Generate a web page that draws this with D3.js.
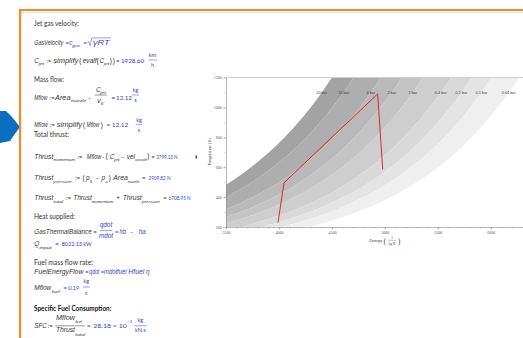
<!DOCTYPE html>
<html>
<head>
<meta charset="utf-8">
<script src="https://cdn.jsdelivr.net/npm/d3@7"></script>
<style>
  html, body { margin: 0; padding: 0; background: #fff; }
  svg { display: block; }
</style>
</head>
<body>
<div id="sheet"></div>
<script>
// isobars of the T-s chart, entropy (J/kg K) read at each temperature (K)
const pressureLabels = ['20 bar', '10 bar', '4 bar', '2 bar', '1 bar', '0.4 bar', '0.2 bar', '0.1 bar', '0.04 bar'];
const isobarTemps = [200, 300, 400, 500, 600, 700, 800, 900, 1000, 1100, 1200];
const isobarEntropy = [
  [2529, 2975, 3291, 3537, 3737, 3907, 4054, 4183, 4299, 4404, 4500],
  [2735, 3181, 3497, 3743, 3943, 4113, 4260, 4389, 4505, 4610, 4706],
  [2993, 3439, 3755, 4001, 4201, 4371, 4518, 4647, 4763, 4868, 4964],
  [3190, 3636, 3952, 4198, 4398, 4568, 4715, 4844, 4960, 5065, 5161],
  [3389, 3835, 4151, 4397, 4597, 4767, 4914, 5043, 5159, 5264, 5360],
  [3653, 4099, 4415, 4661, 4861, 5031, 5178, 5307, 5423, 5528, 5624],
  [3847, 4293, 4609, 4855, 5055, 5225, 5372, 5501, 5617, 5722, 5818],
  [4037, 4483, 4799, 5045, 5245, 5415, 5562, 5691, 5807, 5912, 6008],
  [4295, 4741, 5057, 5303, 5503, 5673, 5820, 5949, 6065, 6170, 6266]
];
const labelTemp = 1100;

// engine cycle (red line)
const cycleEntropy = [3991, 4048, 4932, 4980];
const cycleTemp = [229, 496, 1090, 585];

const xTickValues = [3500, 4000, 4500, 5000, 5500, 6000];
const yTickValues = [200, 400, 600, 800, 1000, 1200];

const width = 523, height = 338;
const ink = '#333', blue = '#3142cf';

const svg = d3.select('#sheet')
  .append('svg')
  .attr('width', width)
  .attr('height', height);

svg.append('rect').attr('width', width).attr('height', height).attr('fill', '#fff');

// ---- worksheet frame
svg.append('path')
  .attr('d', 'M0,111 L6,111 L12,117 L20,127 L14,135 L10,141 L0,143 Z')
  .attr('fill', '#0b6fc1');
svg.append('line').attr('x1', 21.5).attr('x2', width).attr('y1', 12.5).attr('y2', 12.5)
  .attr('stroke', '#e2e2e2').attr('stroke-width', 1);
svg.append('line').attr('x1', 21.5).attr('x2', 21.5).attr('y1', 12).attr('y2', height)
  .attr('stroke', '#ececec').attr('stroke-width', 1);
svg.append('path')
  .attr('d', 'M20,' + height + ' L20,10 L' + width + ',10')
  .attr('fill', 'none')
  .attr('stroke', '#f28a26')
  .attr('stroke-width', 2);

// ---- worksheet text
const plainFont = 'Lato, "Open Sans", sans-serif';
const slantFont = '"Liberation Sans", Arimo, sans-serif';
const styles = {
  h:  { size: 6.6, fill: ink },
  hb: { size: 6.6, fill: '#111', bold: true },
  i:  { size: 6.4, fill: ink, italic: true },
  o:  { size: 6.3, fill: ink },
  s:  { size: 4.4, fill: ink, italic: true },
  b:  { size: 6.5, fill: blue },
  bi: { size: 6.4, fill: blue, italic: true },
  bs: { size: 4.4, fill: blue, italic: true },
  bu: { size: 4.5, fill: blue },
  p:  { size: 7.6, fill: ink },
  u:  { size: 5.5, fill: blue }
};

const sheetText = [
  [34, 26, 'Jet gas velocity:', 'h', 45],

  [34.3, 44.7, 'GasVelocity', 'i', 29],
  [65.5, 44.7, '=', 'o'],
  [69.3, 44.7, 'c', 'bi'],
  [72, 46.8, 'gas', 'bs', 8.5],
  [83.3, 44.7, '=', 'b'],
  [93, 44.7, 'γRT', 'bi', 16.5],

  [34.3, 63, 'C', 'i'],
  [38.6, 65.2, 'jet', 's', 5.5],
  [46.3, 63, ':=', 'o'],
  [53.3, 63, 'simplify', 'i', 25],
  [79.3, 63.6, '(', 'p'],
  [82.7, 63, 'evalf', 'i', 14],
  [96.8, 63.6, '(', 'p'],
  [99.5, 63, 'C', 'i'],
  [103.8, 65.2, 'jet', 's', 5.5],
  [109.7, 63.6, ')', 'p'],
  [112.7, 63.6, ')', 'p'],
  [116, 63, '=', 'o'],
  [121, 63, '1928.60', 'b', 23],
  [152.5, 56.8, 'km', 'u', null, 'middle'],
  [152.5, 66.6, 'h', 'u', null, 'middle'],

  [34, 82, 'Mass flow:', 'h', 30],

  [34.3, 99.5, 'Mflow', 'i', 13],
  [49.4, 99.5, ':=', 'o'],
  [55, 99.5, 'Area', 'i', 15.5],
  [71, 102, 'nozzle', 's', 15.5],
  [88.8, 99.5, '·', 'o'],
  [96, 91.5, 'C', 'i'],
  [100.2, 93.6, 'jet', 's', 5.5],
  [97.3, 103.3, 'v', 'i'],
  [100.8, 105.3, '5\'', 's'],
  [111.5, 99.5, '=', 'o'],
  [116, 99.5, '12.12', 'b', 16],
  [135.5, 92.2, 'kg', 'u', null, 'middle'],
  [135.5, 102.2, 's', 'u', null, 'middle'],

  [34.3, 127, 'Mflow', 'i', 13.4],
  [49.8, 127, ':=', 'o'],
  [56.7, 127, 'simplify', 'i', 25.5],
  [83, 127.6, '(', 'p'],
  [86.6, 127, 'Mflow', 'i', 12.7],
  [100.8, 127.6, ')', 'p'],
  [106.5, 127, '=', 'o'],
  [111.7, 127, '12.12', 'b', 16.6],
  [139, 122, 'kg', 'u', null, 'middle'],
  [139, 131.8, 's', 'u', null, 'middle'],

  [34, 137, 'Total thrust:', 'h', 35],

  [34.3, 158.7, 'Thrust', 'i', 19],
  [53.3, 161, 'momentum', 's', 21.7],
  [77.3, 158.7, ':=', 'o'],
  [86.8, 158.7, 'Mflow', 'i', 14.4],
  [102.3, 158.7, '·', 'o'],
  [105.8, 159.3, '(', 'p'],
  [109.8, 158.7, 'C', 'i'],
  [114, 161, 'jet', 's', 5.5],
  [120.7, 158.7, '−', 'o'],
  [126.7, 158.7, 'vel', 'i', 8.3],
  [135, 161, 'aircraft', 's', 11.7],
  [147.3, 159.3, ')', 'p'],
  [151.3, 158.7, '=', 'o'],
  [156.3, 158.7, '3799.13 N', 'b', 21],

  [34.3, 180.3, 'Thrust', 'i', 19],
  [53.3, 182.6, 'pressure', 's', 18.4],
  [75, 180.3, ':=', 'o'],
  [82.5, 180.9, '(', 'p'],
  [86, 180.3, 'p', 'i'],
  [89.8, 182.6, '5', 's'],
  [95.3, 180.3, '−', 'o'],
  [101.5, 180.3, 'p', 'i'],
  [105.3, 182.6, 'a', 's'],
  [108.8, 180.9, ')', 'p'],
  [113.3, 180.3, 'Area', 'i', 14.5],
  [127.8, 182.6, 'nozzle', 's', 11.7],
  [142, 180.3, '=', 'o'],
  [148.5, 180.3, '2909.82 N', 'b', 22],

  [34.3, 200.3, 'Thrust', 'i', 19],
  [53.3, 202.6, 'total', 's', 10],
  [66, 200.3, ':=', 'o'],
  [73.3, 200.3, 'Thrust', 'i', 18.4],
  [91.7, 202.6, 'momentum', 's', 21.6],
  [116.3, 200.3, '+', 'o'],
  [122.7, 200.3, 'Thrust', 'i', 19],
  [141.7, 202.6, 'pressure', 's', 18.3],
  [163.3, 200.3, '=', 'o'],
  [168.6, 200.3, '6708.95 N', 'b', 22],

  [34, 219.3, 'Heat supplied:', 'h', 41],

  [34.3, 233.7, 'GasThermalBalance', 'i', 57.4],
  [93.3, 233.7, '=', 'o'],
  [106, 226.6, 'qdot', 'bi', null, 'middle'],
  [106, 237.6, 'mdot', 'bi', null, 'middle'],
  [114.8, 233.7, '=', 'b'],
  [119.5, 233.7, 'hb', 'bi', 6.5],
  [129.7, 233.7, '−', 'b'],
  [138.8, 233.7, 'ha', 'bi', 7],

  [34.3, 246.3, 'Q', 'i'],
  [39.2, 248.6, 'input', 's', 12.5],
  [55, 246.3, '=', 'b'],
  [61.7, 246.3, '8022.13 kW', 'b', 30],

  [34, 265.3, 'Fuel mass flow rate:', 'h', 59],

  [34.3, 273.7, 'FuelEnergyFlow', 'i', 49],
  [85, 273.7, '=', 'o'],
  [89.3, 273.7, 'qdot', 'bi', 10],
  [100.5, 273.7, '=', 'b'],
  [104, 273.7, 'mdotfuel', 'bi', 22.5],
  [128.3, 273.7, 'Hfuel', 'bi', 16],
  [146, 273.7, 'η', 'bi'],

  [34.3, 290.3, 'Mflow', 'i', 17],
  [51.7, 292.6, 'fuel', 's', 8.5],
  [63.3, 290.3, '=', 'b'],
  [68.3, 290.3, '0.19', 'b', 11],
  [86.3, 283.3, 'kg', 'u', null, 'middle'],
  [86.3, 294.8, 's', 'u', null, 'middle'],

  [34, 311.3, 'Specific Fuel Consumption:', 'hb', 77.4],

  [34.3, 328.3, 'SFC', 'i', 12.4],
  [47.7, 328.3, ':=', 'o'],
  [56, 319.8, 'Mflow', 'i', 19],
  [75.2, 323, 'fuel', 's', 6.7],
  [56, 332.2, 'Thrust', 'i', 19],
  [75.2, 335.5, 'total', 's', 10],
  [86.7, 328.3, '=', 'b'],
  [93.3, 328.3, '28.18 × 10', 'b', 33.4],
  [127, 322.8, '−3', 'bu'],
  [140.3, 322.2, 'kg', 'u', null, 'middle'],
  [140.3, 332.4, 'kN s', 'u', null, 'middle']
];

const fractionBars = [
  [148.5, 156.8, 60, blue],
  [94.5, 107, 95, ink],
  [132, 139, 95, blue],
  [135.8, 142.2, 124.7, blue],
  [100, 112.2, 230.6, blue],
  [83, 90, 287, blue],
  [55, 84.5, 325.8, ink],
  [134, 146.6, 325.8, blue]
];

sheetText.forEach(function(d) {
  const st = styles[d[3]];
  const t = svg.append('text')
    .attr('x', d[0])
    .attr('y', d[1])
    .attr('font-family', st.italic ? slantFont : plainFont)
    .attr('font-size', st.size)
    .attr('fill', st.fill)
    .attr('font-style', st.italic ? 'italic' : 'normal')
    .attr('font-weight', st.bold ? 'bold' : 'normal')
    .text(d[2]);
  if (d[4]) t.attr('textLength', d[4]).attr('lengthAdjust', 'spacingAndGlyphs');
  if (d[5]) t.attr('text-anchor', d[5]);
});

svg.selectAll('.frac')
  .data(fractionBars)
  .enter()
  .append('line')
  .attr('class', 'frac')
  .attr('x1', d => d[0]).attr('x2', d => d[1])
  .attr('y1', d => d[2]).attr('y2', d => d[2])
  .attr('stroke', d => d[3])
  .attr('stroke-width', 0.5);

// square root sign
svg.append('path')
  .attr('d', 'M87.4,42.2 L88.6,41.6 L90.2,45.6 L91.8,37.9 L111,37.9')
  .attr('fill', 'none')
  .attr('stroke', blue)
  .attr('stroke-width', 0.5);

// ---- T-s chart
const x = d3.scaleLinear().domain([3500, 6500]).range([226, 543.7]);
const y = d3.scaleLinear().domain([200, 1200]).range([227, 77.5]);

svg.append('clipPath').attr('id', 'plotClip')
  .append('rect')
  .attr('x', 226).attr('y', 77.5)
  .attr('width', width - 226).attr('height', 227 - 77.5);

const shade = d3.scaleLinear().domain([0, isobarEntropy.length - 2]).range(['#a3a3a3', '#efefef']);

const band = d3.area()
  .curve(d3.curveMonotoneY)
  .y((d, k) => y(isobarTemps[k]))
  .x0(d => x(d[0]))
  .x1(d => x(d[1]));

const bandData = d3.range(isobarEntropy.length - 1).map(function(i) {
  return isobarTemps.map((T, k) => [isobarEntropy[i][k], isobarEntropy[i + 1][k]]);
});

const plot = svg.append('g').attr('clip-path', 'url(#plotClip)');

plot.selectAll('.band')
  .data(bandData)
  .enter()
  .append('path')
  .attr('class', 'band')
  .attr('d', band)
  .attr('fill', (d, i) => shade(i));

svg.append('line')
  .attr('x1', 226).attr('x2', width)
  .attr('y1', 77.5).attr('y2', 77.5)
  .attr('stroke', '#cfcfcf').attr('stroke-width', 1);

const labelIndex = isobarTemps.indexOf(labelTemp);
svg.selectAll('.isobarLabel')
  .data(pressureLabels)
  .enter()
  .append('text')
  .attr('class', 'isobarLabel')
  .attr('x', (d, i) => x(isobarEntropy[i][labelIndex]))
  .attr('y', y(labelTemp) + 1.4)
  .attr('text-anchor', 'middle')
  .attr('font-family', '"Liberation Sans", Arial, sans-serif')
  .attr('font-size', 3.8)
  .attr('fill', '#3a3a3a')
  .text(d => d);

const cycleLine = d3.line()
  .x(d => x(d[0]))
  .y(d => y(d[1]));

plot.append('path')
  .datum(cycleEntropy.map((s, i) => [s, cycleTemp[i]]))
  .attr('d', cycleLine)
  .attr('fill', 'none')
  .attr('stroke', '#e3242b')
  .attr('stroke-width', 1);

// axes
const axisFont = '"Liberation Serif", "DejaVu Serif", serif';

const gxMinor = svg.append('g').attr('transform', 'translate(0,227)')
  .call(d3.axisBottom(x).tickValues(d3.range(3500, 6501, 100)).tickSize(1.6).tickFormat(''));
gxMinor.select('.domain').remove();
gxMinor.selectAll('.tick line').attr('stroke', '#888').attr('stroke-width', 0.4);

const gx = svg.append('g').attr('transform', 'translate(0,227)')
  .call(d3.axisBottom(x).tickValues(xTickValues).tickSize(2.6).tickSizeOuter(0).tickPadding(1.8).tickFormat(d3.format('d')));
gx.select('.domain').attr('stroke', '#8a8a8a').attr('stroke-width', 0.6);
gx.selectAll('.tick line').attr('stroke', '#888').attr('stroke-width', 0.5);
gx.selectAll('.tick text').attr('font-size', 4).attr('font-family', axisFont).attr('fill', '#555');

const gyMinor = svg.append('g').attr('transform', 'translate(226,0)')
  .call(d3.axisLeft(y).tickValues(d3.range(200, 1201, 100)).tickSize(1.6).tickFormat(''));
gyMinor.select('.domain').remove();
gyMinor.selectAll('.tick line').attr('stroke', '#888').attr('stroke-width', 0.4);

const gy = svg.append('g').attr('transform', 'translate(226,0)')
  .call(d3.axisLeft(y).tickValues(yTickValues).tickSize(3).tickSizeOuter(0).tickPadding(1.2).tickFormat(d3.format('d')));
gy.select('.domain').attr('stroke', '#8a8a8a').attr('stroke-width', 0.6);
gy.selectAll('.tick line').attr('stroke', '#888').attr('stroke-width', 0.5);
gy.selectAll('.tick text').attr('font-size', 4).attr('font-family', axisFont).attr('fill', '#555');

// axis titles
svg.append('text')
  .attr('transform', 'translate(210.5,152) rotate(-90)')
  .attr('text-anchor', 'middle')
  .attr('font-family', axisFont)
  .attr('font-size', 4.2)
  .attr('fill', '#444')
  .text('Temperature (K)');

svg.append('rect').attr('x', 195.5).attr('y', 155.5).attr('width', 1.5).attr('height', 3).attr('fill', blue);

svg.append('text').attr('x', 369.3).attr('y', 242.2)
  .attr('font-family', axisFont).attr('font-size', 4.3).attr('fill', '#444')
  .attr('textLength', 13.4).attr('lengthAdjust', 'spacingAndGlyphs')
  .text('Entropy');
svg.append('text').attr('x', 383.6).attr('y', 243.6)
  .attr('font-family', axisFont).attr('font-size', 8).attr('fill', '#555').text('(');
svg.append('text').attr('x', 392).attr('y', 238.6).attr('text-anchor', 'middle')
  .attr('font-family', axisFont).attr('font-size', 3.6).attr('fill', '#444').text('J');
svg.append('line').attr('x1', 388).attr('x2', 396.2).attr('y1', 240.3).attr('y2', 240.3)
  .attr('stroke', '#555').attr('stroke-width', 0.35);
svg.append('text').attr('x', 392).attr('y', 244.8).attr('text-anchor', 'middle')
  .attr('font-family', axisFont).attr('font-size', 3.6).attr('fill', '#444').text('kg K');
svg.append('text').attr('x', 397.8).attr('y', 243.6)
  .attr('font-family', axisFont).attr('font-size', 8).attr('fill', '#555').text(')');
</script>
</body>
</html>
